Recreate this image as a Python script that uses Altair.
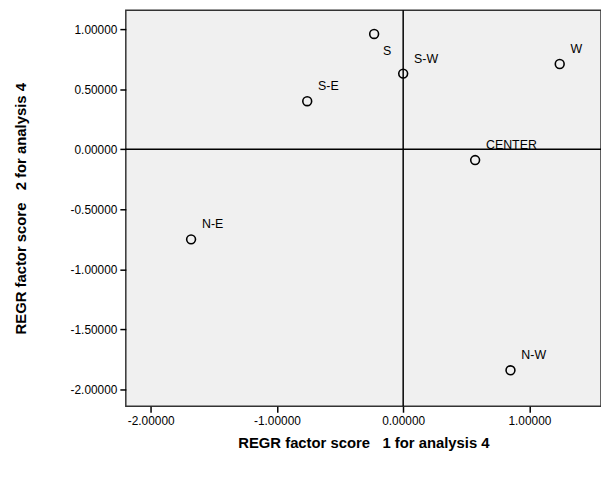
import altair as alt
import pandas as pd

names = ["S", "S-W", "W", "S-E", "CENTER", "N-E", "N-W"]
xs = [-0.23, 0.0, 1.24, -0.76, 0.57, -1.68, 0.85]
ys = [0.96, 0.63, 0.71, 0.40, -0.09, -0.75, -1.84]
df = pd.DataFrame({"name": names, "x": xs, "y": ys})
zero = pd.DataFrame({"z": [0]})

xsc = alt.Scale(domain=[-2.197, 1.567], nice=False, zero=False)
ysc = alt.Scale(domain=[-2.14, 1.157], nice=False, zero=False)
lex = "replace(format(datum.value, '.5f'), '\u2212', '-')"
X = alt.X("x:Q", scale=xsc, axis=alt.Axis(labelExpr=lex, values=[-2, -1, 0, 1], grid=False,
          title="REGR factor score\u00a0\u00a0\u00a01 for analysis 4", titlePadding=10))
Y = alt.Y("y:Q", scale=ysc, axis=alt.Axis(labelExpr=lex, values=[-2, -1.5, -1, -0.5, 0, 0.5, 1], grid=False,
          title="REGR factor score\u00a0\u00a0\u00a02 for analysis 4", titlePadding=42))

pts = alt.Chart(df).mark_point(shape="circle", size=80, filled=False, color="black", strokeWidth=1.6, opacity=1).encode(x=X, y=Y)
lab = alt.Chart(df).transform_filter("datum.name != 'S'").mark_text(align="left", dx=11, dy=-15, fontSize=12.5, font="Liberation Sans", color="black").encode(x=X, y=Y, text="name")
labS = alt.Chart(df).transform_filter("datum.name == 'S'").mark_text(align="left", dx=9, dy=17, fontSize=12.5, font="Liberation Sans", color="black").encode(x=X, y=Y, text="name")
vr = alt.Chart(zero).mark_rule(color="black", strokeWidth=1.5).encode(x=alt.X("z:Q", scale=xsc))
hr = alt.Chart(zero).mark_rule(color="black", strokeWidth=1.5).encode(y=alt.Y("z:Q", scale=ysc))

chart = alt.layer(vr, hr, pts, lab, labS).properties(
    width=480, height=400, autosize=alt.AutoSizeParams(type="none"),
    padding={"left": 119, "top": 0, "right": 0, "bottom": 60}
).configure_view(fill="#f0f0f0", stroke="#333333", strokeWidth=1.5).configure_axis(
    labelFont="Liberation Sans", labelFontSize=12, labelColor="black", domain=False,
    tickColor="black", tickSize=6, tickWidth=1.5, titleFont="Liberation Sans", titleFontSize=15,
    titleFontWeight="bold", titleColor="black", labelPadding=3)
chart.save("out.html", embed_options={"renderer": "svg", "actions": False})
